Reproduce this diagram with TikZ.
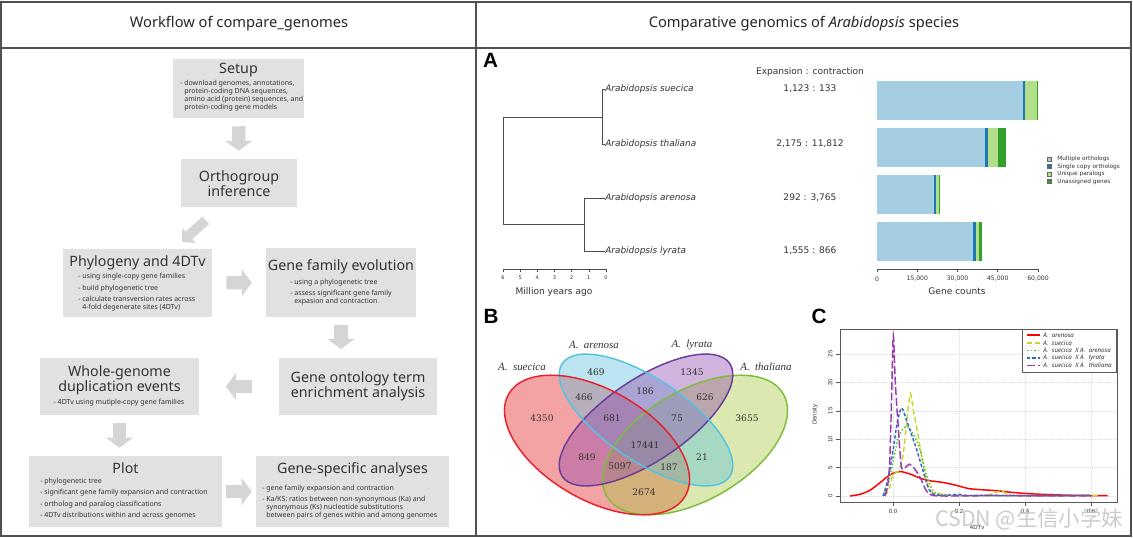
\documentclass[tikz,border=0pt]{standalone}
\usepackage{fontspec}
\setmainfont{Noto Sans}
\newfontfamily\plotfont{DejaVu Sans}
\newfontfamily\vennfont{DejaVu Serif}
\newfontfamily\vennlabfont{Liberation Serif}
\newfontfamily\letterfont{Liberation Sans}
\newfontfamily\cjkfont{Noto Sans CJK SC}
\usetikzlibrary{arrows.meta,positioning,fit}

\definecolor{framegray}{HTML}{505050}
\definecolor{boxgray}{HTML}{E1E1E1}
\definecolor{arrowgray}{HTML}{D5D5D5}
\definecolor{textgray}{HTML}{333333}
\definecolor{multi}{HTML}{A6CEE3}
\definecolor{single}{HTML}{1F78B4}
\definecolor{uniq}{HTML}{B2DF8A}
\definecolor{unass}{HTML}{33A02C}
\definecolor{vred}{HTML}{E41A1C}
\definecolor{vcyan}{HTML}{5BC0DE}
\definecolor{vpurple}{HTML}{8E44AD}
\definecolor{vgreen}{HTML}{A6C73B}
\definecolor{lred}{HTML}{E8202A}
\definecolor{lcyan}{HTML}{55C3E0}
\definecolor{lpurple}{HTML}{6A3D9A}
\definecolor{lgreen}{HTML}{7DBD3B}
\definecolor{cred}{HTML}{FF0000}
\definecolor{cyel}{HTML}{C5D92A}
\definecolor{cgreen}{HTML}{66C02E}
\definecolor{cblue}{HTML}{3366CC}
\definecolor{cpurple}{HTML}{9A3DAE}

\tikzset{
  frame/.style={draw=framegray,line width=1.5pt},
  wfbox/.style={fill=boxgray,inner sep=0pt},
  wfhead/.style={font=\fontsize{10.7}{11.6}\selectfont,align=center,inner sep=0pt,text=textgray},
  wflist/.style={font=\fontsize{5.25}{6}\selectfont,align=left,inner sep=0pt,text=textgray,anchor=north west},
  wfarrow/.style={draw=arrowgray,line width=10pt,-{Triangle[length=7.5pt,width=20pt]}},
  panel/.style={font=\letterfont\bfseries\fontsize{15.5}{16}\selectfont,inner sep=0pt},
  tree/.style={draw=black!70,line width=0.5pt},
  species/.style={font=\plotfont\itshape\fontsize{6.7}{7}\selectfont,inner sep=0pt,anchor=west,text=textgray},
  plotnum/.style={font=\plotfont\fontsize{6.8}{8}\selectfont,inner sep=0pt,text=textgray},
  tinylbl/.style={font=\plotfont\fontsize{3.8}{4}\selectfont,inner sep=0pt,text=textgray},
  barlbl/.style={font=\plotfont\fontsize{4.6}{5}\selectfont,inner sep=0pt,text=textgray},
  axislbl/.style={font=\plotfont\fontsize{6.8}{8}\selectfont,inner sep=0pt,text=textgray},
  leglbl/.style={font=\plotfont\fontsize{4.35}{5}\selectfont,inner sep=0pt,anchor=west,text=textgray},
  vennnum/.style={font=\vennfont\fontsize{6.8}{8}\selectfont,inner sep=0pt,text=textgray},
  vennlab/.style={font=\vennlabfont\itshape\fontsize{8.2}{9}\selectfont,inner sep=0pt,text=textgray},
  vennfill/.style={fill opacity=0.4},
  vennline/.style={line width=1.1pt},
  cgrid/.style={draw=black!15,line width=0.4pt,dash pattern=on 0.8pt off 0.8pt},
  cframe/.style={draw=black!65,line width=0.6pt},
  ctick/.style={font=\letterfont\fontsize{4.5}{5}\selectfont,inner sep=0pt,text=textgray},
  cleg/.style={font=\itshape\fontsize{4.6}{5}\selectfont,inner sep=0pt,anchor=west,text=textgray},
  arenosaline/.style={draw=cred,line width=1.1pt},
  suecicaline/.style={draw=cyel,line width=1.1pt,dash pattern=on 4pt off 2.2pt},
  sxaline/.style={draw=cgreen,line width=1.1pt,dash pattern=on 1.2pt off 1.5pt},
  sxlline/.style={draw=cblue,line width=1.1pt,dash pattern=on 2.5pt off 1.5pt},
  sxtline/.style={draw=cpurple,line width=1.1pt,dash pattern=on 6pt off 2pt},
}

\begin{document}
\begin{tikzpicture}[x=0.75pt,y=-0.75pt]
\useasboundingbox (0,0) rectangle (1133,538);
\fill[white] (0,0) rectangle (1133,538);

% frame and headers
\draw[frame] (1,2) rectangle (1131,536);
\draw[frame] (1,48) -- (1131,48);
\draw[frame] (476,2) -- (476,536);
\node[font=\fontsize{11}{13}\selectfont,text=black!85] (lefttitle) at (239,24) {Workflow of compare\_genomes};
\node[font=\fontsize{11}{13}\selectfont,text=black!85] (righttitle) at (804,24) {Comparative genomics of \textit{Arabidopsis} species};

% workflow boxes
\node[wfbox,fit={(173,59) (304,118)}] (setup) {};
\node[wfbox,fit={(181,159) (297,207)}] (ortho) {};
\node[wfbox,fit={(63,249) (212,317)}] (phylo) {};
\node[wfbox,fit={(266,248) (416,317)}] (genefam) {};
\node[wfbox,fit={(279,358) (437,415)}] (onto) {};
\node[wfbox,fit={(40,358) (199,415)}] (whole) {};
\node[wfbox,fit={(29,456) (222,527)}] (plot) {};
\node[wfbox,fit={(256,456) (449,527)}] (genespec) {};

\node[wfhead,anchor=base] (setuphead) at (238.5,74) {Setup};
\node[wflist] (setuplist) at (180,80) {- download genomes, annotations,\\
\phantom{- }protein-coding DNA sequences,\\
\phantom{- }amino acid (protein) sequences, and\\
\phantom{- }protein-coding gene models};

\node[wfhead,anchor=north] (orthohead) at (239,170) {Orthogroup\\inference};

\node[wfhead,anchor=base] (phylohead) at (137.5,267) {Phylogeny and 4DTv};
\node[wflist] (phylolist) at (78,273) {- using single-copy gene families\\[2.6pt]
- build phylogenetic tree\\[2.6pt]
- calculate transversion rates across\\
\phantom{- }4-fold degenerate sites (4DTv)};

\node[wfhead,anchor=base] (genefamhead) at (341,271) {Gene family evolution};
\node[wflist] (genefamlist) at (290,278.6) {- using a phylogenetic tree\\[2.3pt]
- assess significant gene family\\
\phantom{- }expasion and contraction};

\node[wfhead,anchor=north] (ontohead) at (358,371) {Gene ontology term\\enrichment analysis};

\node[wfhead,anchor=north] (wholehead) at (119.5,365) {Whole-genome\\duplication events};
\node[wflist,anchor=center] (wholelist) at (119,402.7) {- 4DTv using mutiple-copy gene families};

\node[wfhead,anchor=base] (plothead) at (125.5,473.5) {Plot};
\node[wflist] (plotlist) at (40,478) {- phylogenetic tree\\[2.5pt]
- significant gene family expansion and contraction\\[2.5pt]
- ortholog and paralog classifications\\[2.5pt]
- 4DTv distributions within and across genomes};

\node[wfhead,anchor=base] (genespechead) at (352.5,473.5) {Gene-specific analyses};
\node[wflist] (genespeclist) at (262,484.6) {- gene family expansion and contraction\\[2.5pt]
- Ka/KS: ratios between non-synonymous (Ka) and\\
\phantom{- }synonymous (Ks) nucleotide substitutions\\
\phantom{- }between pairs of genes within and among genomes};

% workflow arrows
\draw[wfarrow,shorten <=6pt,shorten >=6pt] (setup) -- (ortho);
\draw[wfarrow,line width=7.5pt,-{Triangle[length=7pt,width=15pt]}] ([shift={(25,13)}]ortho.south west) -- ([shift={(44.5,-7)}]phylo.north);
\draw[wfarrow,shorten <=10.5pt,shorten >=10.5pt] (phylo) -- (genefam);
\draw[wfarrow,shorten <=6pt,shorten >=6.5pt] (genefam.south) -- (genefam.south |- onto.north);
\draw[wfarrow,shorten <=20pt,shorten >=20pt] (onto) -- (whole);
\draw[wfarrow,shorten <=6pt,shorten >=6pt] (whole.south) -- (whole.south |- plot.north);
\draw[wfarrow,shorten <=3pt,shorten >=3pt] (plot) -- (genespec);

% panel A: tree
\node[panel] (panela) at (490.5,60.5) {A};
\node[plotnum] (expcon) at (810,72) {Expansion : contraction};
\node[species] (suecica) at (605,89) {Arabidopsis suecica};
\node[species] (thaliana) at (605,144) {Arabidopsis thaliana};
\node[species] (arenosa) at (605,198) {Arabidopsis arenosa};
\node[species] (lyrata) at (605,251) {Arabidopsis lyrata};
\draw[tree] (suecica.west) -- (602,89) -- (602,144) -- (thaliana.west);
\draw[tree] (602,117) -- (503,117) -- (503,224) -- (584,224);
\draw[tree] (arenosa.west) -- (584,198) -- (584,251) -- (lyrata.west);
\node[plotnum] (expsuecica) at (810,89) {1,123 : 133};
\node[plotnum] (expthaliana) at (810,144) {2,175 : 11,812};
\node[plotnum] (exparenosa) at (810,198) {292 : 3,765};
\node[plotnum] (explyrata) at (810,251) {1,555 : 866};
\draw[tree] (503,269) -- (606,269);
\foreach \i in {0,...,6}{
  \draw[tree] ({606-\i*17.17},269) -- ({606-\i*17.17},272);
  \node[tinylbl] at ({606-\i*17.17},278) {\i};
}
\node[axislbl] (myago) at (554,292) {Million years ago};

% panel A: bars
\foreach \top/\ma/\sc/\up/\un in {81/1023/1025/1037/1038,128/985/988/998/1006,175/934/936/939/940,222/973/975.5/979/982}{
  \fill[multi] (877,\top) rectangle (\ma,\top+39);
  \fill[single] (\ma,\top) rectangle (\sc,\top+39);
  \fill[uniq] (\sc,\top) rectangle (\up,\top+39);
  \fill[unass] (\up,\top) rectangle (\un,\top+39);
}
\draw[tree] (877,269) -- (1038,269);
\foreach \k/\l in {0/0,1/{15,000},2/{30,000},3/{45,000},4/{60,000}}{
  \draw[tree] ({877+\k*40.25},269) -- ({877+\k*40.25},272);
  \node[barlbl] at ({877+\k*40.25},279) {\l};
}
\node[axislbl] (genecounts) at (957,291) {Gene counts};
\draw[draw=black!60,fill=multi,line width=0.3pt] (1047,157) rectangle (1051,161);
\draw[draw=black!60,fill=single,line width=0.3pt] (1047,164.5) rectangle (1051,168.5);
\draw[draw=black!60,fill=uniq,line width=0.3pt] (1047,172) rectangle (1051,176);
\draw[draw=black!60,fill=unass,line width=0.3pt] (1047,179.5) rectangle (1051,183.5);
\node[leglbl] (legmulti) at (1057,159) {Multiple orthologs};
\node[leglbl] (legsingle) at (1057,166.5) {Single copy orthologs};
\node[leglbl] (leguniq) at (1057,174) {Unique paralogs};
\node[leglbl] (legunass) at (1057,181.5) {Unassigned genes};

% panel B: Venn
\node[panel] (panelb) at (491,316) {B};
\fill[vred,vennfill,rotate around={-30:(597,445)}] (597,445) ellipse (102 and 55);
\fill[vgreen,vennfill,rotate around={30:(695,445)}] (695,445) ellipse (102 and 55);
\fill[vcyan,vennfill,rotate around={-34:(646,420)}] (646,420) ellipse (101 and 41);
\fill[vpurple,vennfill,rotate around={34:(646,420)}] (646,420) ellipse (101 and 41);
\draw[lgreen,vennline,rotate around={30:(695,445)}] (695,445) ellipse (102 and 55);
\draw[lpurple,vennline,rotate around={34:(646,420)}] (646,420) ellipse (101 and 41);
\draw[lcyan,vennline,rotate around={-34:(646,420)}] (646,420) ellipse (101 and 41);
\draw[lred,vennline,rotate around={-30:(597,445)}] (597,445) ellipse (102 and 55);
\node[vennlab] (labsuecica) at (522,367) {A.\hspace{2pt} suecica};
\node[vennlab] (labarenosa) at (594,345) {A.\hspace{2pt} arenosa};
\node[vennlab] (lablyrata) at (692,345) {A.\hspace{2pt} lyrata};
\node[vennlab] (labthaliana) at (766,367) {A.\hspace{2pt} thaliana};
\node[vennnum] (n469) at (596,372) {469};
\node[vennnum] (n1345) at (692,372) {1345};
\node[vennnum] (n466) at (584,397) {466};
\node[vennnum] (n186) at (645,391) {186};
\node[vennnum] (n626) at (705,397) {626};
\node[vennnum] (n4350) at (542,418) {4350};
\node[vennnum] (n681) at (612,418) {681};
\node[vennnum] (n75) at (677,418) {75};
\node[vennnum] (n3655) at (747,418) {3655};
\node[vennnum] (n17441) at (645,445) {17441};
\node[vennnum] (n849) at (587,457) {849};
\node[vennnum] (n21) at (702,457) {21};
\node[vennnum] (n5097) at (620,466) {5097};
\node[vennnum] (n187) at (669,467) {187};
\node[vennnum] (n2674) at (644,492) {2674};

% panel C: density curves
\node[panel] (panelc) at (819,316) {C};
\begin{scope}[shift={(893,496)},x=247.5pt,y=4.26pt]
  \foreach \v in {0,0.2,0.4,0.6} \draw[cgrid] (\v,-1.06) -- (\v,29.4);
  \foreach \d in {0,5,...,25} \draw[cgrid] (-0.1606,\d) -- (0.6788,\d);
  \draw[arenosaline] plot[smooth] coordinates {(-0.13,0) (-0.10,0.3) (-0.07,1.0) (-0.04,2.3) (-0.01,3.7) (0.02,4.3) (0.05,3.9) (0.08,3.2) (0.11,2.7) (0.15,2.4) (0.19,1.9) (0.23,1.3) (0.27,1.1) (0.31,0.95) (0.35,0.7) (0.4,0.45) (0.45,0.3) (0.5,0.2) (0.55,0.12) (0.6,0.08) (0.65,0.05)};
  \draw[suecicaline] plot[smooth] coordinates {(-0.025,0) (-0.01,1.5) (0.0,3.8) (0.015,4.3) (0.03,7) (0.045,15) (0.053,18) (0.062,15) (0.075,11) (0.09,6) (0.1,3) (0.115,0.8) (0.14,0.4) (0.17,0.2) (0.22,0.05) (0.28,0.1) (0.31,0.6) (0.33,0.9) (0.35,0.2) (0.4,0.05) (0.5,0.05) (0.6,0.1) (0.62,0.05)};
  \draw[sxaline] plot[smooth] coordinates {(-0.03,0) (-0.015,2) (0.0,6) (0.015,10) (0.03,11.8) (0.045,12.2) (0.06,11) (0.08,8.5) (0.1,4) (0.12,1) (0.14,0.3) (0.2,0.1) (0.3,0.1) (0.6,0.1)};
  \draw[sxlline] plot[smooth] coordinates {(-0.03,0) (-0.015,3) (0.0,8) (0.013,13) (0.026,15.5) (0.04,13.5) (0.055,11) (0.07,8.5) (0.09,4.6) (0.106,1.6) (0.12,0.4) (0.15,0.1) (0.2,0.3) (0.22,0.1) (0.3,0.1) (0.4,0.05) (0.6,0.1)};
  \draw[sxtline] plot[smooth] coordinates {(-0.025,0) (-0.017,1.5) (-0.01,6) (-0.004,18) (0.001,28.3) (0.007,20) (0.016,12) (0.025,5.3) (0.035,4.9) (0.05,5.6) (0.065,4.8) (0.082,3.3) (0.1,1) (0.115,0.2) (0.15,0) (0.3,0.05) (0.6,0)};
  \draw[cframe] (-0.1606,-1.06) rectangle (0.6788,29.4);
  \foreach \d in {0,5,...,25}{
    \draw[cframe,line width=0.4pt] (-0.1606,\d) -- (-0.174,\d);
    \node[ctick,rotate=90] at (-0.19,\d) {\d};
  }
  \foreach \v/\l in {0/0.0,0.2/0.2,0.4/0.4,0.6/0.6}{
    \draw[cframe,line width=0.4pt] (\v,-1.06) -- (\v,-1.8);
    \node[ctick] at (\v,-2.8) {\l};
  }
  \node[ctick,rotate=90] (density) at (-0.236,14.3) {Density};
  \node[ctick] (tdtv) at (0.255,-5.6) {4DTv};
\end{scope}

% panel C: legend
\draw[cframe,fill=white] (1022,329) rectangle (1116,372);
\draw[arenosaline] (1027,335) -- (1040,335);
\draw[suecicaline] (1027,343) -- (1040,343);
\draw[sxaline] (1027,350.5) -- (1040,350.5);
\draw[sxlline] (1027,358) -- (1040,358);
\draw[sxtline] (1027,365.5) -- (1040,365.5);
\node[cleg] (legarenosa) at (1043,335) {A.\hspace{1.5pt} arenosa};
\node[cleg] (legsuecica) at (1043,343) {A.\hspace{1.5pt} suecica};
\node[cleg] (legsxa) at (1043,350.5) {A.\hspace{1.5pt} suecica\hspace{1.5pt} X A.\hspace{1.5pt} arenosa};
\node[cleg] (legsxl) at (1043,358) {A.\hspace{1.5pt} suecica\hspace{1.5pt} X A.\hspace{1.5pt} lyrata};
\node[cleg] (legsxt) at (1043,365.5) {A.\hspace{1.5pt} suecica\hspace{1.5pt} X A.\hspace{1.5pt} thaliana};

% watermark
\node[font=\cjkfont\fontsize{16}{16}\selectfont,text=black!25,opacity=0.8,inner sep=0pt] (watermark) at (1029,519) {CSDN @生信小学妹};
\end{tikzpicture}
\end{document}
